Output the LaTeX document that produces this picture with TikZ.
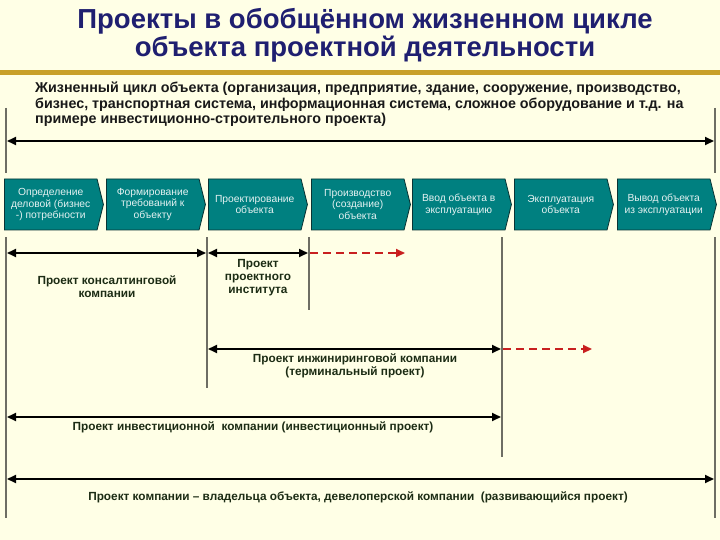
\documentclass[tikz,border=0pt]{standalone}
\usepackage{fontspec}
\setmainfont{Liberation Sans}
\usetikzlibrary{arrows.meta,shapes.symbols}
\definecolor{bg}{HTML}{FFFFE6}
\definecolor{gold}{HTML}{C8A02A}
\definecolor{navy}{HTML}{1F1F70}
\definecolor{tealfill}{HTML}{008080}
\definecolor{tealdark}{HTML}{0A3434}
\definecolor{vline}{HTML}{6E6E64}
\definecolor{lbl}{HTML}{1C2C14}
\definecolor{redd}{HTML}{C82020}
\begin{document}
\begin{tikzpicture}[x=1pt,y=-1pt,
  stage/.style={signal, signal to=east, signal from=nothing, signal pointer angle=152,
    draw=tealdark, fill=tealfill, line width=0.8pt, minimum width=99pt, minimum height=51pt,
    inner sep=1pt, text=white!90!teal, font=\fontsize{10.3}{11.8}\selectfont, align=center, anchor=west},
  vl/.style={draw=vline, line width=1.6pt},
  span/.style={draw=black, line width=1.8pt, {Triangle[length=9pt,width=8pt]}-{Triangle[length=9pt,width=8pt]}},
  rspan/.style={draw=redd, line width=2.2pt, dash pattern=on 8pt off 5pt, -{Triangle[length=9pt,width=8pt,fill=red!90!black]}},
  lab/.style={text=lbl, font=\bfseries\fontsize{11.8}{13}\selectfont, align=center}]
\fill[bg] (0,0) rectangle (720,540);
\useasboundingbox (0,0) rectangle (720,540);
\fill[gold] (0,70) rectangle (720,75);
\node[text=navy, font=\bfseries\fontsize{27.5}{28}\selectfont, align=center] (title) at (365,35)
  {Проекты в обобщённом жизненном цикле\\объекта проектной деятельности};
\node[anchor=north west, text=black!90, font=\bfseries\fontsize{14.3}{15.5}\selectfont, align=left, inner sep=0pt] (intro) at (35,82)
  {Жизненный цикл объекта (организация, предприятие, здание, сооружение, производство,\\
   бизнес, транспортная система, информационная система, сложное оборудование и т.д. на\\
   примере инвестиционно-строительного проекта)};
% vertical lines
\draw[vl] (6,108) -- (6,173);
\draw[vl] (6,237) -- (6,518);
\draw[vl] (715,108) -- (715,173);
\draw[vl] (715,237) -- (715,518);
\draw[vl] (207,237) -- (207,388);
\draw[vl] (309,237) -- (309,310);
\draw[vl] (502,237) -- (502,457);
% chevrons
\node[stage] (c1) at (4,204.5) {Определение\\деловой (бизнес\\-) потребности};
\node[stage] (c2) at (106,204.5) {Формирование\\требований к\\объекту};
\node[stage] (c3) at (208,204.5) {Проектирование\\объекта};
\node[stage] (c4) at (311,204.5) {Производство\\(создание)\\объекта};
\node[stage] (c5) at (412,204.5) {Ввод объекта в\\эксплуатацию};
\node[stage] (c6) at (514,204.5) {Эксплуатация\\объекта};
\node[stage] (c7) at (617,204.5) {Вывод объекта\\из эксплуатации};
% arrow end points
\coordinate (tl) at (7,141); \coordinate (tr) at (714,141);
\coordinate (a1) at (7,253); \coordinate (a2) at (206,253);
\coordinate (b1) at (208,253); \coordinate (b2) at (308,253);
\coordinate (r1) at (310,253); \coordinate (r2) at (405,253);
\coordinate (e1) at (208,349); \coordinate (e2) at (501,349);
\coordinate (s1) at (503,349); \coordinate (s2) at (592,349);
\coordinate (i1) at (7,417); \coordinate (i2) at (501,417);
\coordinate (o1) at (7,479); \coordinate (o2) at (714,479);
\draw[span] (tl) -- (tr);
\draw[span] (a1) -- (a2);
\draw[span] (b1) -- (b2);
\draw[rspan] (r1) -- (r2);
\draw[span] (e1) -- (e2);
\draw[rspan] (s1) -- (s2);
\draw[span] (i1) -- (i2);
\draw[span] (o1) -- (o2);
% labels
\node[lab] (lcons) at (107,287) {Проект консалтинговой\\компании};
\node[lab] (linst) at (258,278) {Проект\\проектного\\института};
\node[lab] (leng) at (355,366) {Проект инжиниринговой компании\\(терминальный проект)};
\node[lab] (linv) at (253,427) {Проект инвестиционной \ компании (инвестиционный проект)};
\node[lab] (lown) at (358,497) {Проект компании – владельца объекта, девелоперской компании \ (развивающийся проект)};
\end{tikzpicture}
\end{document}
